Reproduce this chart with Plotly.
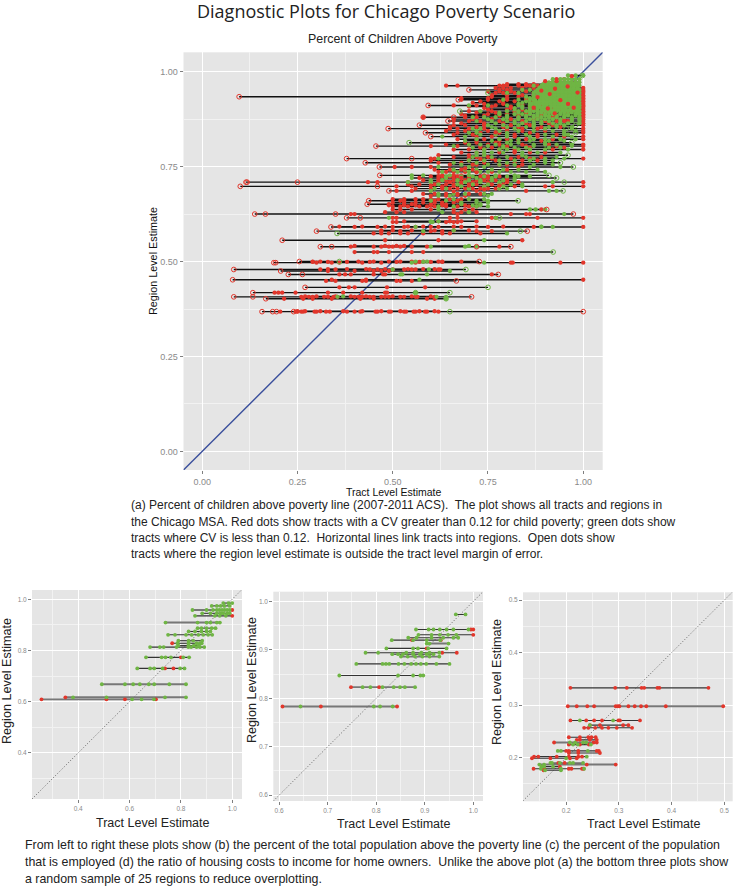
import plotly.graph_objects as go

# ---------- Panel (a): all regions ----------
A_Y = [.368,.402,.407,.418,.432,.449,.452,.466,.475,.479,.497,.500,.525,.539,.556,.574,.580,.591,.604,.615,.625,.637,.651,.660,.673,.686,.698,.709,.720,.727,.749,.760,.771,.780,.804,.813,.829,.839,.850,.859,.870,.880,.888,.896,.904,.911,.918,.926,.934,.944,.952,.963,.972,.980,.990]
A_RED = [
 [.205,.245,.25,.26,.265,.295,.30,.325,.335,.38,.40,.415,.455,.46,.49,.495,.53,.535,.555,.56,.585,.59,.62],
 [.215,.265,.29,.34,.415,.45,.59,.61],
 [.26,.28,.29,.32,.33,.345,.355,.40,.41,.415,.42,.44,.45,.47,.48,.49,.52,.53,.56,.565,.61],
 [.19,.20,.21,.245,.33,.37,.42,.48,.485],
 [.36,.385,.40,.485,.585],
 [.325,.35,.42,.43,.51,.52,.55],
 [1.0,.34,.43],
 [.36,.375,.39,.45,.475,.48,.76],
 [.33,.40,.45,.47,.49],
 [.31,.35,.44,.46,.50,.53,.55,.56,.62,.625],
 [.30,.34,.36,.42,.47,.56,.81,.815,.94,1.0],
 [.29,.31,.41,.45,.49,.52,.55,.58,.62,.63,.68],
 [.40,.45,.46,.49,.55,.58],
 [.39,.45,.47,.49,.50,.52,.55,.59,.78],
 [.48,.62,.84],
 [.45,.47,.49,.52,.54,.58,.63,.65,.73],
 [.47,.52,.60,.63,.72,.76],
 [.40,.46,.50,.53,.56,.60,.62,.68,.75,.87,1.0],
 [.50,.51,.64,.66,.67],
 [.50,.51,.65,.67,.76,.77,.88,1.0],
 [.39,.40,.67,.81,.85,.86],
 [.50,.52,.55,.60,.66,.69,.71,.89],
 [.49,.53,.55,.60,.63,.68],
 [.52,.53,.61,.67],
 [.60,.64,.69],
 [.51,.55,.60,.72,.85],
 [.51,.55,.63,.66,.70,.74,.78,.82,.90,.92,1.0],
 [.435,.46,.54,.62,.65,.68,.71,.75,.80,.83,1.0],
 [.57,.62,.66,.70,.74,.80],
 [.63,.66,.68,.74],
 [.505,.55,.60,.83],
 [.62,.68,.74,.82],
 [.60,.61,.70,.76,.81,.86,1.0],
 [.62,.70,.74],
 [.60,.67,.73,.80,.85,.93,1.0],
 [.69,.72,.77],
 [.72,.76,.82,.88,.95,1.0],
 [.67,.73,.78,.86,1.0],
 [.65,.67,.70,.74,.80,.84,.88,1.0],
 [.66,.69,.74,.81,.86,.92,1.0],
 [.66,.70,.73,.78,.84,.90,.93,.96,1.0],
 [.58,.69,.72,.83,.88,.92,1.0],
 [.68,.75,.80,.86,1.0],
 [.70,.76,.82,.86,.91,.97,1.0],
 [.74,.81,.89,1.0],
 [.66,.72,.77,.84,.90,.96,1.0],
 [.71,.79,.86,.93,1.0],
 [.68,.75,.80,.85,.93,.97,1.0],
 [.76,.83,.89,.95,1.0],
 [.77,.79,.82,.87,.90,.95,1.0],
 [.78,.80,.84,.91,.98,1.0],
 [.64,.67,.78,.79,.80,.83,.85,.86,.88,.93],
 [.92,.97],
 [.93,.95],
 [],
]
A_GREEN = [
 [],[.64],[.355,.615,.64],[.56],[],[],[.57],[.52,.525,.59],[.65],[.50,.595],
 [.55,.74],[.56,.59],[],[.60,.69,.72],[.74],[.80],[.58],[.56,.89,.92],[.60,.605],[.49,.77],
 [.95],[.62,.86,.875,.90],[.68,.73],[.60,.64,.72,.75],[.62,.65,.75],[.60,.91,.93],
 [.68,.74,.79,.84],[.54,.60,.69,.73,.78,.92],[.55,.64,.68,.72,.76,.82],[.55,.58,.65,.70,.77,.82],
 [.62,.70,.74,.86,.94],[.66,.72,.80,.90],[.62,.73,.87,.90,.95],[.72,.74,.84],
 [.66,.75,.79,.87,.97],[.80,.83,.90],[.63,.69,.80,.86,.92,.97],[.70,.72,.80,.95],
 [.71,.73,.77,.82,.90,.97],[.75,.79,.83,.87,.93,.95],
 [.72,.76,.80,.82,.85,.87,.89,.91,.94,.97,.99],
 [.71,.74,.77,.80,.83,.85,.87,.89,.91,.93,.95,.97,.99],
 [.78,.82,.84,.86,.88,.90,.92,.94,.96,.98,.99],
 [.73,.80,.83,.85,.87,.89,.90,.92,.93,.95,.96,.98,.99],
 [.82,.84,.86,.88,.89,.90,.91,.93,.94,.95,.97,.98,.99],
 [.70,.75,.80,.83,.86,.88,.90,.92,.93,.94,.95,.96,.97,.98,.99],
 [.84,.86,.87,.88,.89,.90,.91,.92,.93,.94,.95,.96,.97,.98,.99],
 [.79,.83,.86,.87,.89,.90,.91,.92,.93,.94,.95,.96,.97,.98,.99],
 [.85,.87,.88,.89,.90,.91,.92,.93,.94,.95,.96,.97,.98,.99],
 [.80,.83,.87,.88,.89,.90,.91,.92,.93,.94,.95,.96,.97,.98,.99],
 [.84,.86,.88,.89,.90,.91,.92,.93,.94,.95,.96,.97,.98,.99],
 [.87,.89,.90,.91,.92,.93,.94,.95,.96,.97,.98,.99],
 [.91,.92,.93,.94,.95,.96,.97,.98,.99],
 [.92,.94,.95,.96,.97,.98,.99],
 [.96,.98,1.0],
]
A_OPEN_RED = [
 [.157,.185,.195,.24,1.0],[.167],[.083,.133,.707],[.133],[.27],[.667],[.08],[.226,.263,.777],[.206],[.083],
 [.188,.193],[.255,.727],[],[.31,.34,.72,.81],[.21],[],[.30,.853],[.338],[],[.379,.415],
 [.138,.166,.35,.974],[.904],[.433],[.437],[],[.49],[.10,.46],[.115,.25,.118],[],[.466],
 [.465],[.428],[.379,.55],[],[.456],[],[.60],[.586],[.488],[.57],
 [.645],[.58,.66],[],[],[],[.593],[],[.672],[.097],[],
 [.70],[],[],[],[],
]
A_OPEN_GREEN = [
 [.65],[.64],[],[.56,.65],[.75],[],[],[],[],[.692],
 [],[.36],[.921],[],[],[.354],[.835],[],[],[.78],
 [],[],[],[.829],[],[.947],[],[.95],[.93],[.91],
 [.974],[.94],[],[.96],[],[.543,.97],[],[.98],[.955],[.98],
 [],[],[],[.676],[],[],[],[],[],[.75],
 [],[],[],[],[.998],
]

# further regions of panel (a), where the lines and dots crowd together
A2_Y = [.369,.408,.480,.499,.541,.582,.592,.606,.630,.645,.648,.655,.664,.678,.692,.703,.714,.724,.736,.742,.755,.766,.775,.787,.795,.800,.808,.818,.822,.834,.844,.854,.864,.875,.884,.892,.900,.908,.915,.922,.930,.938,.948,.957,.967]
A2_RED = [
 [.25,.27,.31,.37,.42,.47,.52,.57,.61],
 [.27,.30,.35,.39,.43,.50,.55,.60],
 [.33,.38,.43,.48,.54,.58,.61],
 [.29,.33,.38,.44,.51,.57,.60,.63],
 [.40,.48,.51,.53],
 [.47,.50,.55,.61,.66,.70],
 [.36,.42,.48,.54,.58,.66,.72,.79],
 [.53,.62,.65,.68,.72],
 [.48,.51,.53,.66,.68,.70,.72],
 [.50,.52,.54,.57,.59,.61,.64,.67,.70,.72],
 [.49,.53,.56,.60,.63,.69],
 [.50,.53,.56,.58,.61,.63,.66],
 [.50,.53,.56,.58,.60,.62,.65,.68],
 [.58,.61,.64,.67,.70,.73],
 [.56,.60,.63,.65,.67,.69,.71,.73,.75,.77],
 [.54,.57,.61,.64,.66,.68,.70,.72,.76,.79],
 [.58,.62,.64,.66,.69,.72,.74,.77,.80],
 [.60,.63,.65,.67,.70,.73,.75,.78],
 [.62,.64,.66,.69,.72,.76],
 [.61,.65,.68,.71,.80],
 [.65,.72,.78,.80,.84],
 [.60,.70,.74,.77,.84,.88],
 [.66,.72,.75,.83,.89],
 [.68,.72,.78,.82,.86,.90],
 [.66,.70,.74,.78,.82,.92,1.0],
 [.73,.76,.80,.86,.95],
 [.64,.70,.75,.78,.84,.91,1.0],
 [.72,.78,.83,.89],
 [.67,.74,.80,.85,.92,1.0],
 [.66,.71,.77,.82,.88,.93],
 [.64,.69,.75,.80,.84,.90,1.0],
 [.65,.72,.79,.83,.89,.94],
 [.68,.74,.79,.85,.91,1.0],
 [.66,.71,.76,.81,.87,.95,1.0],
 [.69,.74,.78,.83,.89,.93,1.0],
 [.72,.77,.82,.85,.90,.96,1.0],
 [.75,.80,.84,.87,.92,.94,1.0],
 [.70,.76,.81,.86,.89,.95,1.0],
 [.74,.79,.84,.90,.93,.97,1.0],
 [.73,.78,.82,.87,.92,.98,1.0],
 [.68,.75,.80,.85,.89,.94,1.0],
 [.76,.80,.84,.87,.91,.96,1.0],
 [.75,.78,.81,.85,.88,.93,1.0],
 [.77,.79,.81,.84,.87,.90,.94,1.0],
 [.80,.83,.85,.87,.92,.95],
]
A2_GREEN = [
 [],[.37],[],[.58],[.70],[.66],[.89],[.60,.62],[.63,.70],
 [.62,.66,.72,.75],[.71,.73],[.68,.72,.75],[.66,.70,.74],[.62,.66,.69,.74,.76],
 [.61,.64,.70,.74,.78,.80],[.62,.67,.71,.75,.78,.81,.84],[.60,.63,.67,.70,.73,.76,.79,.82],
 [.64,.68,.71,.74,.77,.80,.83,.86],[.63,.67,.70,.73,.75,.78,.81,.85,.90],[.66,.69,.72,.76,.79,.83,.88],
 [.68,.71,.75,.78,.82,.87,.92],[.70,.74,.78,.82,.86,.90,.92],[.71,.76,.80,.85,.93],
 [.72,.74,.76,.79,.84,.88,.94],[.74,.78,.80,.83,.86,.90,.96],[.71,.79,.82,.85,.91,.94],
 [.70,.73,.77,.81,.87,.90,.93,.97],[.69,.76,.81,.86,.91,.95],[.72,.78,.83,.87,.90,.94,.98],
 [.73,.77,.80,.85,.90,.95,.96],[.72,.78,.83,.87,.92,.95,.98],[.76,.80,.85,.87,.91,.93,.97],
 [.77,.82,.84,.87,.89,.92,.94,.96,.99],[.75,.79,.83,.86,.88,.90,.92,.94,.97,.99],
 [.80,.85,.87,.88,.90,.91,.93,.95,.96,.98],[.78,.83,.86,.88,.89,.91,.92,.94,.95,.97,.985],
 [.82,.86,.88,.895,.905,.915,.925,.935,.945,.955,.965,.975,.985],[.84,.87,.885,.895,.905,.915,.925,.935,.945,.955,.965,.975,.985],
 [.83,.865,.875,.885,.895,.905,.915,.925,.935,.945,.955,.965,.975,.985],[.85,.875,.885,.895,.905,.915,.925,.935,.945,.955,.965,.975,.985],
 [.86,.875,.885,.895,.905,.915,.925,.935,.945,.955,.965,.975,.985],[.87,.885,.895,.905,.915,.925,.935,.945,.955,.965,.975,.985],
 [.875,.885,.895,.905,.915,.925,.935,.945,.955,.965,.975,.985],[.885,.895,.905,.915,.925,.935,.945,.955,.965,.975,.985],
 [.895,.905,.915,.925,.935,.945,.955,.965,.975,.985],
]
# red tracts that show through the green clouds
A_TOP_RED_X = [.912,.926,.959,.97,.89,.907,.94,.88,.96,.925,.95,.87,.90,.985,.975,.93,.68,.70,.65,.63,.72,.74,.66,.60,.69,.75,.62,.78,.64,.71,.67,.73,.82,.77]
A_TOP_RED_Y = [.941,.955,.961,.988,.95,.903,.925,.933,.915,.89,.87,.905,.975,.945,.905,.975,.72,.70,.71,.695,.735,.69,.685,.70,.745,.72,.725,.70,.65,.755,.675,.77,.79,.84]

# ---------- Panels (b), (c), (d): samples of 25 regions ----------
B_Y = [.609,.617,.668,.730,.773,.813,.819,.828,.838,.861,.874,.887,.909,.935,.945,.958,.974,.985]
B_RED = [[.257,.51,.582,.703],[.35],[],[.738,.771],[.80],[],[],[.766],[],[],[],[],[],[1.0],[],[1.0],[],[]]
B_GREEN = [
 [.61,.647,.695],[.38,.51,.738,.82],[.492,.582,.614,.64,.675,.696,.755,.82],[.63,.68,.696,.729,.797,.814],
 [.664,.725,.74,.761,.809,.832],[.68,.718,.733,.783,.829,.84,.861,.874,.891],[.79,.83,.85,.87],
 [.787,.83,.861,.874,.881],[.79,.83,.848,.883],[.75,.777,.82,.842,.868,.887,.906,.922],
 [.83,.855,.88,.90,.915],[.865,.88,.90,.92,.935],[.74,.865,.90,.915,.94,.952],[.855,.932,.951,.975],
 [.883,.915,.94,.955,.965,.98,.99],[.845,.90,.925,.94,.95,.96,.97,.98,.99],[.92,.94,.955,.97,.99],[.965,.985,1.0],
]
C_Y = [.783,.823,.847,.871,.886,.891,.894,.903,.913,.920,.925,.931,.942,.973]
C_RED = [[.607,.686,.843],[.748,.806],[],[],[],[],[.966,.936],[.904],[],[.874,.933],[],[1.0],[.995,1.0],[]]
C_GREEN = [
 [.644,.795,.808,.834],[.772,.788,.813,.836,.849,.859,.88],[.724,.845,.876,.891,.897],
 [.759,.813,.82,.827,.846,.858,.872,.882,.892,.903,.924,.951],[.851,.865,.88,.895,.91,.93],
 [.833,.845,.855,.876,.89,.904,.918],[.778,.804,.862,.876,.893,.91,.93],[.821,.876,.886,.907,.945],
 [.904,.91,.949],[.832,.876,.904,.932],[.866,.883,.914,.938,.959,.969],[.887,.914,.931,.948,.965],
 [.882,.908,.918,.931,.945,.959,.99],[.964,.984],
]
D_Y = [.333,.298,.271,.262,.257,.239,.234,.229,.225,.213,.209,.202,.199,.190,.187,.183,.179,.176]
D_RED = [
 [.208,.293,.315,.343,.348,.373,.377,.47],
 [.203,.22,.24,.253,.294,.298,.301,.318,.33,.342,.352,.389,.498],
 [.208,.238,.253,.268,.299,.302,.34],
 [.245,.264,.308,.318],[.234,.242,.255,.268,.28,.296,.325],
 [.205,.226,.242,.248,.256],[.22,.226,.245,.258],[.177,.258,.252],[.205,.226,.243],
 [.2,.205,.223,.258,.262],[.205,.223,.264],[.139,.147,.182,.205,.223,.23],[.135,.17,.207,.22],
 [.185,.197],[.239,.294],[.157,.188],[.138,.158,.205,.21,.23,.233],[.157],
]
D_GREEN = [
 [],[],[.226,.289],[.245],[],[],[],[.207,.217,.232,.238],[.213,.222,.247],
 [.184,.19,.241],[],[.239],[.2],[.17,.173,.188,.207,.213,.232],[.149,.158],[.153,.158,.175],[.152,.19,.234],[.16,.19],
]
# regions whose link line looks grey and heavier in the picture
B_GREY = [0, 1, 2, 12, 15]
C_GREY = [0, 1, 4, 8]
D_GREY = [1, 7, 14]

def link_lines(ys, groups, keep):
    xs, yy = [], []
    for i, y in enumerate(ys):
        vals = [v for g in groups for v in g[i]]
        if vals and keep(i):
            xs += [min(vals), max(vals), None]
            yy += [y, y, None]
    return xs, yy

def flat(ys, rows):
    xs, yy = [], []
    for y, r in zip(ys, rows):
        xs += r
        yy += [y] * len(r)
    return xs, yy

RED = "#E2362B"
GREEN = "#6FB544"
fig = go.Figure()

def panel(ax, ys, red, green, open_red, open_green, diag, lw, lc, ms, grey=(), top=None):
    xa, ya = "x" + ax, "y" + ax
    fig.add_trace(go.Scatter(x=diag[0], y=diag[1], mode="lines", xaxis=xa, yaxis=ya, **diag[2]))
    groups = [red, green, open_red, open_green]
    if grey:
        gx, gy = link_lines(ys, groups, lambda i: i in grey)
        fig.add_trace(go.Scatter(x=gx, y=gy, mode="lines", xaxis=xa, yaxis=ya,
                                 line=dict(color="#777777", width=1.9), hoverinfo="skip"))
    lx, ly = link_lines(ys, groups, lambda i: i not in grey)
    fig.add_trace(go.Scatter(x=lx, y=ly, mode="lines", xaxis=xa, yaxis=ya,
                             line=dict(color=lc, width=lw), hoverinfo="skip"))
    rx, ry = flat(ys, red)
    fig.add_trace(go.Scatter(x=rx, y=ry, mode="markers", xaxis=xa, yaxis=ya,
                             marker=dict(color=RED, size=ms, line=dict(width=0))))
    gx, gy = flat(ys, green)
    fig.add_trace(go.Scatter(x=gx, y=gy, mode="markers", xaxis=xa, yaxis=ya,
                             marker=dict(color=GREEN, size=ms, line=dict(width=0))))
    if top:
        fig.add_trace(go.Scatter(x=top[0], y=top[1], mode="markers", xaxis=xa, yaxis=ya,
                                 marker=dict(color=RED, size=ms, line=dict(width=0))))
    for rows, col in ((open_green, GREEN), (open_red, RED)):
        ox, oy = flat(ys, rows)
        if ox:
            fig.add_trace(go.Scatter(x=ox, y=oy, mode="markers", xaxis=xa, yaxis=ya,
                                     marker=dict(color=col, size=ms + .4, symbol="circle-open",
                                                 line=dict(width=1, color=col))))

none = lambda ys: [[] for _ in ys]
rng_a = [-.049, 1.051]
panel("", A_Y + A2_Y, A_RED + A2_RED, A_GREEN + A2_GREEN,
      A_OPEN_RED + none(A2_Y), A_OPEN_GREEN + none(A2_Y),
      (rng_a, rng_a, dict(line=dict(color="#3A4F9C", width=1.4))), 1.4, "#111111", 4.3,
      top=(A_TOP_RED_X, A_TOP_RED_Y))
dot = dict(line=dict(color="#555555", width=.9, dash="1px,2px"))
rng_b, rng_c, rng_d = [.22, 1.038], [.588, 1.02], [.118, .516]
panel("2", B_Y, B_RED, B_GREEN, none(B_Y), none(B_Y), (rng_b, rng_b, dot), 1.1, "#333333", 3.8, B_GREY)
panel("3", C_Y, C_RED, C_GREEN, none(C_Y), none(C_Y), (rng_c, rng_c, dot), 1.1, "#333333", 3.8, C_GREY)
panel("4", D_Y, D_RED, D_GREEN, none(D_Y), none(D_Y), (rng_d, rng_d, dot), 1.1, "#333333", 3.8, D_GREY)

W, H = 735, 888
def axis(lo, hi, rng, dtick, minor, fmt, fs, anchor, vertical):
    dom = [1 - hi / H, 1 - lo / H] if vertical else [lo / W, hi / W]
    return dict(domain=dom, range=rng, dtick=dtick, tick0=0, tickformat=fmt, anchor=anchor,
                showgrid=True, gridcolor="white", gridwidth=1.3, zeroline=False, showline=False,
                ticks="outside", ticklen=3, tickwidth=.8, tickcolor="#7F7F7F",
                tickfont=dict(family="Liberation Sans", size=fs, color="#8A8A8A"),
                minor=dict(dtick=minor, tick0=0, showgrid=True, gridcolor="#F2F2F2", gridwidth=.6, ticks=""))

fig.update_layout(
    width=W, height=H, autosize=False, margin=dict(l=0, r=0, t=0, b=0), showlegend=False,
    paper_bgcolor="white", plot_bgcolor="#E5E5E5", hovermode=False,
    xaxis=axis(183.5, 602.7, rng_a, .25, .125, ".2f", 9, "y", False),
    yaxis=axis(52.3, 470, rng_a, .25, .125, ".2f", 9, "x", True),
    xaxis2=axis(32, 242, rng_b, .2, .1, ".1f", 6.5, "y2", False),
    yaxis2=axis(590, 799, [.22, 1.036], .2, .1, ".1f", 6.5, "x2", True),
    xaxis3=axis(273.3, 483, rng_c, .1, .05, ".1f", 6.5, "y3", False),
    yaxis3=axis(591.7, 801, rng_c, .1, .05, ".1f", 6.5, "x3", True),
    xaxis4=axis(523, 732.7, rng_d, .1, .05, ".1f", 6.5, "y4", False),
    yaxis4=axis(592.3, 801.3, [.117, .515], .1, .05, ".1f", 6.5, "x4", True),
)

def text(x, y, s, size, family="Liberation Sans", anchor="center", angle=0, color="#222222"):
    fig.add_annotation(x=x / W, y=1 - y / H, xref="paper", yref="paper", text=s, showarrow=False,
                       xanchor=anchor, yanchor="middle", textangle=angle, borderpad=0,
                       font=dict(family=family, size=size, color=color))

text(386, 11, "Diagnostic Plots for Chicago Poverty Scenario", 18, family="Open Sans")
text(403, 39, "Percent of Children Above Poverty", 12.4)
text(393, 492, "Tract Level Estimate", 10.5, color="#111111")
text(153, 261, "Region Level Estimate", 10.8, angle=-90, color="#111111")
for cx, cy, tx, ty in ((153, 823, 7, 681), (394, 824, 252, 680), (644, 824, 497, 682)):
    text(cx, cy, "Tract Level Estimate", 12.5)
    text(tx, ty, "Region Level Estimate", 12.6, angle=-90)

CAPTION_A = [
    "(a) Percent of children above poverty line (2007-2011 ACS).  The plot shows all tracts and regions in",
    "the Chicago MSA. Red dots show tracts with a CV greater than 0.12 for child poverty; green dots show",
    "tracts where CV is less than 0.12.  Horizontal lines link tracts into regions.  Open dots show",
    "tracts where the region level estimate is outside the tract level margin of error.",
]
CAPTION_B = [
    "From left to right these plots show (b) the percent of the total population above the poverty line (c) the percent of the population",
    "that is employed (d) the ratio of housing costs to income for home owners.  Unlike the above plot (a) the bottom three plots show",
    "a random sample of 25 regions to reduce overplotting.",
]
for ln, yy in zip(CAPTION_A, (505, 521.5, 538, 554)):
    text(130, yy, ln.replace("  ", "&nbsp; "), 12, anchor="left")
for ln, yy in zip(CAPTION_B, (845, 862, 879)):
    text(24, yy, ln.replace("  ", "&nbsp; "), 12.4, anchor="left")

fig.write_html("out.html", config=dict(displayModeBar=False),
               post_script="document.body.style.margin='0';document.documentElement.style.overflow='hidden';")
